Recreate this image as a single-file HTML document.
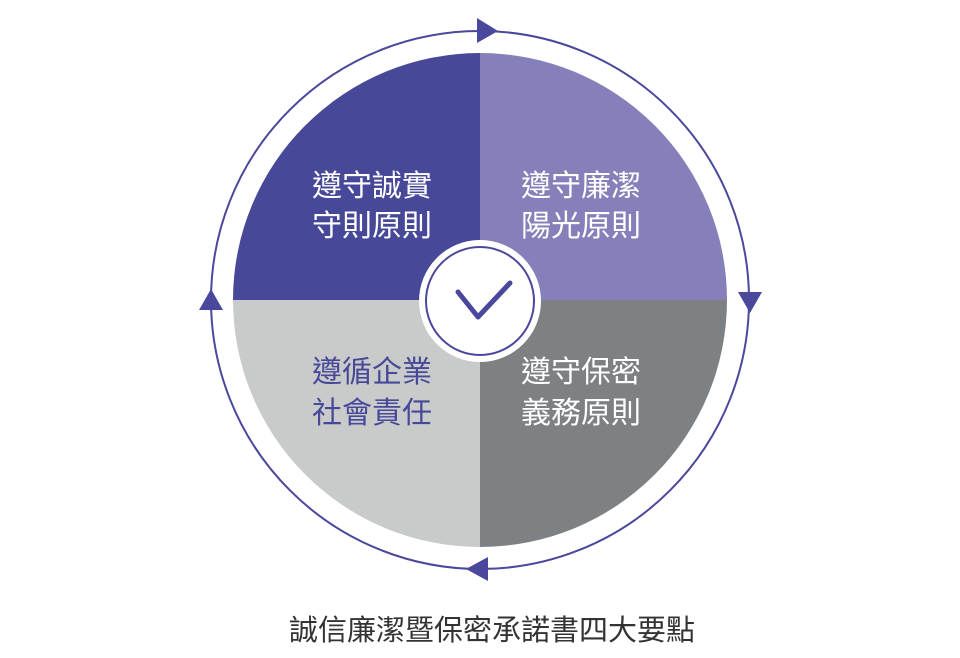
<!DOCTYPE html>
<html><head><meta charset="utf-8"><style>
html,body{margin:0;padding:0;background:#fff;width:960px;height:658px;overflow:hidden}
svg text{font-family:"Liberation Sans","Noto Sans CJK TC",sans-serif}
</style></head><body>
<svg width="960" height="658" viewBox="0 0 960 658" xmlns="http://www.w3.org/2000/svg">
<circle cx="480" cy="300" r="269" fill="none" stroke="#4a489c" stroke-width="2"/>
<path d="M480 300 L480 53 A247 247 0 0 0 233 300 Z" fill="#484899"/>
<path d="M480 300 L480 53 A247 247 0 0 1 727 300 Z" fill="#8680ba"/>
<path d="M480 300 L727 300 A247 247 0 0 1 480 547 Z" fill="#7e8184"/>
<path d="M480 300 L480 547 A247 247 0 0 1 233 300 Z" fill="#c9cbcb"/>
<polygon points="477,18 498,31 477,43" fill="#4a489c"/>
<polygon points="738,292 762,292 750,313" fill="#4a489c"/>
<polygon points="488,557 488,581 466,569" fill="#4a489c"/>
<polygon points="199,310 223,310 211,289" fill="#4a489c"/>
<circle cx="480" cy="301" r="61" fill="#fff"/>
<circle cx="480" cy="301" r="54" fill="none" stroke="#4a489c" stroke-width="2"/>
<polyline points="458,292 478,317 510,283" fill="none" stroke="#4a489c" stroke-width="5" stroke-linecap="round" stroke-linejoin="round"/>
<g font-size="30" text-anchor="middle" fill="#fff">
<text x="372" y="196">遵守誠實</text>
<text x="372" y="236">守則原則</text>
<text x="581" y="196">遵守廉潔</text>
<text x="581" y="236">陽光原則</text>
<text x="581" y="382">遵守保密</text>
<text x="581" y="423">義務原則</text>
<text x="372" y="382" fill="#484899">遵循企業</text>
<text x="372" y="423" fill="#484899">社會責任</text>
</g>
<text x="492" y="640" font-size="29" text-anchor="middle" fill="#333">誠信廉潔暨保密承諾書四大要點</text>
</svg>
</body></html>
